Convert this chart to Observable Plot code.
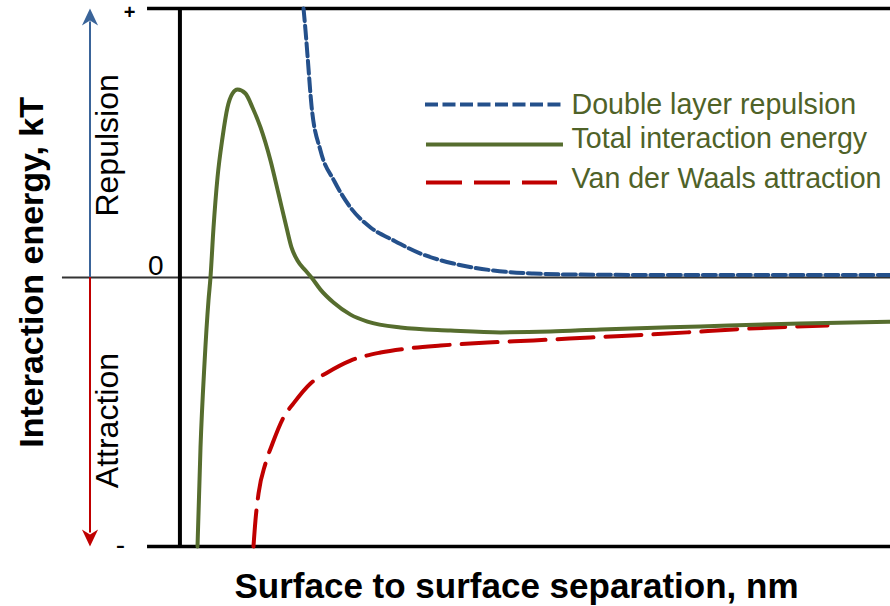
<!DOCTYPE html>
<html>
<head>
<meta charset="utf-8">
<script src="https://cdn.jsdelivr.net/npm/d3@7"></script>
<script src="https://cdn.jsdelivr.net/npm/@observablehq/plot@0.6"></script>
<style>
  html, body { margin: 0; padding: 0; background: #fff; }
  #chart { width: 890px; height: 606px; }
</style>
</head>
<body>
<div id="chart"></div>
<script>
// ---- Data (x: separation, arbitrary units 0–100; y: energy, arbitrary kT units −10…+10) ----
const seriesNames = ["Double layer repulsion", "Total interaction energy", "Van der Waals attraction"];

const doubleLayerX = [17.56, 17.84, 18.12, 18.68, 19.94, 21.91, 24.16, 26.97, 30.20, 33.99, 38.62, 44.24, 49.86, 55.48, 73.31, 100];
const doubleLayerY = [10.0, 9.18, 8.25, 6.39, 4.72, 3.57, 2.60, 1.86, 1.38, 0.89, 0.52, 0.26, 0.15, 0.11, 0.09, 0.09];

const totalX = [2.67, 3.09, 3.65, 4.21, 4.49, 4.92, 5.48, 6.18, 6.88, 7.58, 8.29, 9.41, 10.39, 11.52, 12.92, 14.04, 15.17, 15.87, 16.71, 17.84, 18.68, 19.94, 21.77, 24.16, 26.54, 31.18, 38.20, 45.22, 52.25, 59.27, 73.31, 87.36, 100];
const totalY = [-10.0, -6.32, -3.20, -0.86, 0, 1.86, 3.72, 5.20, 6.32, 6.84, 6.99, 6.84, 6.32, 5.58, 4.35, 3.12, 1.86, 1.12, 0.63, 0.26, 0, -0.45, -0.93, -1.38, -1.64, -1.86, -1.97, -2.04, -2.01, -1.93, -1.82, -1.71, -1.64];

const vdwX = [10.53, 10.81, 11.24, 12.22, 13.20, 14.75, 16.15, 18.54, 20.93, 24.16, 28.37, 32.16, 36.80, 43.40, 49.86, 57.87, 71.49, 77.95, 91.15];
const vdwY = [-10.0, -9.03, -8.03, -6.91, -6.17, -5.20, -4.68, -3.94, -3.53, -3.09, -2.79, -2.64, -2.53, -2.42, -2.34, -2.23, -2.04, -1.93, -1.78];

const yTickLabels = ["+", "0", "-"];
const yTickValues = [10, 0, -10];

// ---- Build tables ----
const zip = (xs, ys) => xs.map((x, i) => ({x, y: ys[i]}));
const doubleLayer = zip(doubleLayerX, doubleLayerY);
const total = zip(totalX, totalY);
const vdw = zip(vdwX, vdwY);

const BLUE = "#24508b", GREEN = "#566d2e", RED = "#c00000", TEXTG = "#4f6228", ARROWBLUE = "#3a6499";
const FONT = "'Liberation Sans', Arial, sans-serif";

// filled "stealth" arrowhead symbol, pointing up
const arrowHead = {
  draw(ctx, size) {
    const s = Math.sqrt(size / Math.PI);
    ctx.moveTo(0, -s);
    ctx.lineTo(s * 0.95, s);
    ctx.lineTo(0, s * 0.4);
    ctx.lineTo(-s * 0.95, s);
    ctx.closePath();
  }
};

const legend = [
  {name: seriesNames[0], y: 6.43, ty: 6.43, color: BLUE, x2: 54.07},
  {name: seriesNames[1], y: 4.94, ty: 5.17, color: GREEN, x2: 54.07},
  {name: seriesNames[2], y: 3.53, ty: 3.68, color: RED, x2: 53.23}
];

const chart = Plot.plot({
  width: 890,
  height: 606,
  marginTop: 8, marginBottom: 60, marginLeft: 178, marginRight: 0,
  x: {domain: [0, 100], range: [178, 890], axis: null},
  y: {domain: [-10, 10], range: [546, 8], axis: null},
  style: {fontFamily: FONT, background: "#fff", overflow: "visible"},
  marks: [
    // frame lines
    Plot.ruleY([0], {x1: -16.3, x2: 100, stroke: "#333", strokeWidth: 2}),
    Plot.ruleY([10, -10], {x1: -4.35, x2: 100, stroke: "#000", strokeWidth: 3.5}),
    Plot.ruleX([0.2], {y1: -10, y2: 10, stroke: "#000", strokeWidth: 4}),

    // repulsion / attraction arrows
    Plot.ruleX([-12.43], {y1: 0, y2: 9.5, stroke: ARROWBLUE, strokeWidth: 2}),
    Plot.ruleX([-12.43], {y1: 0, y2: -9.5, stroke: RED, strokeWidth: 2}),
    Plot.dot([{x: -12.43, y: 9.68}], {x: "x", y: "y", r: 8.5, symbol: arrowHead, fill: ARROWBLUE, stroke: null}),
    Plot.dot([{x: -12.43, y: -9.68}], {x: "x", y: "y", r: 8.5, symbol: arrowHead, fill: RED, stroke: null, rotate: 180}),

    // y tick labels (+, 0, -)
    Plot.text([{t: yTickLabels[0], v: yTickValues[0]}], {x: -6.88, y: 9.85, text: "t", fontSize: 20, fontWeight: "bold", fill: "#000"}),
    Plot.text([{t: yTickLabels[1], v: yTickValues[1]}], {x: -2.1, y: 0.41, text: "t", fontSize: 28, fill: "#000", textAnchor: "end"}),
    Plot.text([{t: yTickLabels[2], v: yTickValues[2]}], {x: -8.15, y: -9.96, text: "t", fontSize: 28, fill: "#000"}),

    // curves
    Plot.line(vdw, {x: "x", y: "y", stroke: RED, strokeWidth: 4, strokeDasharray: "36,12", curve: "monotone-x"}),
    Plot.line(doubleLayer, {x: "x", y: "y", stroke: BLUE, strokeWidth: 4, strokeDasharray: "13,4.5", curve: "monotone-x"}),
    Plot.line(total, {x: "x", y: "y", stroke: GREEN, strokeWidth: 4, curve: "monotone-x"}),

    // legend
    Plot.ruleY(legend.slice(0, 1), {y: "y", x1: 34.69, x2: "x2", stroke: "color", strokeWidth: 4, strokeDasharray: "13,4.5"}),
    Plot.ruleY(legend.slice(1, 2), {y: "y", x1: 34.83, x2: "x2", stroke: "color", strokeWidth: 4}),
    Plot.ruleY(legend.slice(2, 3), {y: "y", x1: 34.83, x2: "x2", stroke: "color", strokeWidth: 4, strokeDasharray: "36,12"}),
    Plot.text(legend, {x: 55.2, y: "ty", text: "name", textAnchor: "start", fontSize: 28.6, fill: TEXTG}),

    // side labels
    Plot.text(["Repulsion"], {x: -9.97, y: 4.91, text: d => d, rotate: -90, fontSize: 32, fill: "#000"}),
    Plot.text(["Attraction"], {x: -9.97, y: -5.32, text: d => d, rotate: -90, fontSize: 32, fill: "#000"}),

    // axis titles
    Plot.text(["Interaction energy, kT"], {x: -20.5, y: 0.19, text: d => d, rotate: -90, fontSize: 34, fontWeight: "bold", fill: "#000"}),
    Plot.text(["Surface to surface separation, nm"], {x: 47.47, y: -11.49, text: d => d, fontSize: 35, fontWeight: "bold", fill: "#000"})
  ]
});

document.getElementById("chart").appendChild(chart);
</script>
</body>
</html>
